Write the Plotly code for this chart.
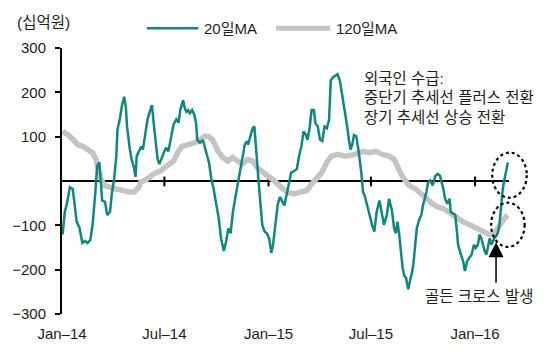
import plotly.graph_objects as go

# ---------------- data ----------------
ma20_dates = [
    "2014-01-02", "2014-01-06", "2014-01-09", "2014-01-15", "2014-01-20", "2014-01-24", "2014-01-27",
    "2014-02-01", "2014-02-06", "2014-02-11", "2014-02-15", "2014-02-20", "2014-02-24", "2014-03-01",
    "2014-03-04", "2014-03-08", "2014-03-11", "2014-03-13", "2014-03-18", "2014-03-22", "2014-03-27",
    "2014-03-30", "2014-04-03", "2014-04-07", "2014-04-09", "2014-04-13", "2014-04-17", "2014-04-21",
    "2014-04-24", "2014-04-26", "2014-05-01", "2014-05-04", "2014-05-08", "2014-05-11", "2014-05-13",
    "2014-05-17", "2014-05-21", "2014-05-24", "2014-05-28", "2014-06-01", "2014-06-05", "2014-06-09",
    "2014-06-12", "2014-06-15", "2014-06-19", "2014-06-22", "2014-06-26", "2014-07-01", "2014-07-04",
    "2014-07-08", "2014-07-12", "2014-07-17", "2014-07-22", "2014-07-26", "2014-07-29", "2014-08-01",
    "2014-08-03", "2014-08-06", "2014-08-09", "2014-08-12", "2014-08-15", "2014-08-19", "2014-08-23",
    "2014-08-26", "2014-08-28", "2014-09-02", "2014-09-07", "2014-09-13", "2014-09-18", "2014-09-22",
    "2014-09-26", "2014-10-01", "2014-10-05", "2014-10-09", "2014-10-14", "2014-10-18", "2014-10-22",
    "2014-10-26", "2014-10-30", "2014-11-03", "2014-11-07", "2014-11-12", "2014-11-16", "2014-11-20",
    "2014-11-24", "2014-11-26", "2014-11-30", "2014-12-04", "2014-12-07", "2014-12-09", "2014-12-12",
    "2014-12-15", "2014-12-18", "2014-12-21", "2014-12-25", "2014-12-29", "2015-01-02", "2015-01-06",
    "2015-01-09", "2015-01-13", "2015-01-17", "2015-01-21", "2015-01-25", "2015-01-29", "2015-02-03",
    "2015-02-07", "2015-02-10", "2015-02-16", "2015-02-20", "2015-02-24", "2015-02-28", "2015-03-04",
    "2015-03-08", "2015-03-11", "2015-03-15", "2015-03-18", "2015-03-22", "2015-03-25", "2015-03-29",
    "2015-04-02", "2015-04-06", "2015-04-10", "2015-04-14", "2015-04-18", "2015-04-21", "2015-04-25",
    "2015-04-29", "2015-05-03", "2015-05-07", "2015-05-11", "2015-05-14", "2015-05-17", "2015-05-20",
    "2015-05-23", "2015-05-26", "2015-05-29", "2015-06-01", "2015-06-05", "2015-06-09", "2015-06-14",
    "2015-06-17", "2015-06-20", "2015-06-24", "2015-06-28", "2015-07-03", "2015-07-07", "2015-07-11",
    "2015-07-16", "2015-07-20", "2015-07-24", "2015-07-29", "2015-08-02", "2015-08-07", "2015-08-11",
    "2015-08-14", "2015-08-17", "2015-08-20", "2015-08-23", "2015-08-26", "2015-08-29", "2015-09-01",
    "2015-09-03", "2015-09-05", "2015-09-08", "2015-09-11", "2015-09-14", "2015-09-17", "2015-09-20",
    "2015-09-24", "2015-09-28", "2015-10-01", "2015-10-04", "2015-10-07", "2015-10-10", "2015-10-14",
    "2015-10-18", "2015-10-23", "2015-10-27", "2015-10-31", "2015-11-03", "2015-11-06", "2015-11-09",
    "2015-11-13", "2015-11-17", "2015-11-19", "2015-11-23", "2015-11-27", "2015-11-30", "2015-12-02",
    "2015-12-07", "2015-12-11", "2015-12-14", "2015-12-18", "2015-12-22", "2015-12-26", "2015-12-30",
    "2016-01-02", "2016-01-06", "2016-01-09", "2016-01-12", "2016-01-15", "2016-01-18", "2016-01-21",
    "2016-01-24", "2016-01-27", "2016-01-30", "2016-02-01", "2016-02-04", "2016-02-07", "2016-02-10",
    "2016-02-13", "2016-02-16", "2016-02-19", "2016-02-22", "2016-02-25", "2016-02-28",
]
ma20_vals = [
    -121, -69, -55, -14, -18, -62, -92,
    -106, -140, -135, -140, -133, -100, -25,
    33, 42, -25, -44, -47, -77, -69,
    -29, 4, 56, 116, 138, 171, 190,
    164, 122, 71, 49, 31, 9, 56,
    67, 78, 71, 108, 138, 156, 171,
    131, 93, 49, 38, 53, 67, 75,
    67, 93, 127, 139, 132, 160, 171,
    182, 164, 156, 160, 153, 160, 149,
    130, 93, 86, 93, 64, 40, 4,
    -18, -55, -84, -129, -158, -136, -107,
    -118, -70, -40, -10, 19, 49, 82,
    90, 82, 101, 119, 123, 86, 34,
    -10, -55, -99, -114, -118, -129, -162,
    -144, -99, -55, -36, -45, -55, -25,
    4, 19, 23, 27, 56, 78, 112,
    104, 93, 123, 160, 160, 130, 123,
    93, 90, 123, 119, 138, 227, 234,
    238, 241, 227, 197, 178, 153, 123,
    93, 71, 82, 104, 101, 70, 19,
    -25, -33, -55, -77, -99, -114, -70,
    -44, -70, -99, -77, -40, -66, -107,
    -118, -92, -121, -158, -196, -214, -218,
    -233, -244, -225, -210, -188, -144, -107,
    -88, -77, -55, -40, -25, -3, 1,
    -10, 12, 16, 12, -3, -18, -40,
    -51, -40, -70, -73, -77, -114, -144,
    -166, -181, -203, -181, -173, -166, -144,
    -151, -144, -121, -129, -144, -158, -166,
    -144, -129, -144, -136, -129, -125, -118,
    -99, -55, -18, 4, 23, 42,
]

ma120_dates = [
    "2014-01-02", "2014-01-12", "2014-01-21", "2014-01-29", "2014-02-07", "2014-02-15", "2014-02-24",
    "2014-03-02", "2014-03-07", "2014-03-11", "2014-03-17", "2014-03-25", "2014-04-06", "2014-04-18",
    "2014-04-29", "2014-05-08", "2014-05-16", "2014-05-20", "2014-05-31", "2014-06-12", "2014-06-24",
    "2014-07-05", "2014-07-17", "2014-07-26", "2014-08-01", "2014-08-12", "2014-08-24", "2014-09-02",
    "2014-09-10", "2014-09-16", "2014-09-24", "2014-10-04", "2014-10-12", "2014-10-21", "2014-10-30",
    "2014-11-07", "2014-11-16", "2014-11-25", "2014-12-04", "2014-12-12", "2014-12-21", "2014-12-30",
    "2015-01-08", "2015-01-16", "2015-01-25", "2015-02-03", "2015-02-14", "2015-02-26", "2015-03-10",
    "2015-03-18", "2015-03-27", "2015-04-05", "2015-04-14", "2015-04-22", "2015-05-04", "2015-05-16",
    "2015-05-27", "2015-06-08", "2015-06-17", "2015-06-28", "2015-07-10", "2015-07-21", "2015-08-02",
    "2015-08-11", "2015-08-17", "2015-08-23", "2015-08-29", "2015-09-06", "2015-09-18", "2015-09-29",
    "2015-10-08", "2015-10-17", "2015-10-26", "2015-11-06", "2015-11-18", "2015-11-30", "2015-12-11",
    "2015-12-23", "2016-01-04", "2016-01-15", "2016-01-27", "2016-02-04", "2016-02-10", "2016-02-16",
    "2016-02-22", "2016-02-28",
]
ma120_vals = [
    112, 104, 93, 82, 78, 71, 64,
    49, 27, 4, -10, -14, -18, -21,
    -25, -25, -16, -3, 4, 16, 23,
    34, 45, 67, 78, 82, 86, 93,
    101, 101, 93, 67, 53, 45, 53,
    45, 38, 49, 45, 30, 19, 12,
    4, -7, -16, -25, -29, -25, -21,
    -7, 4, 19, 42, 56, 60, 56,
    58, 62, 67, 64, 67, 60, 56,
    49, 30, 16, 4, -10, -18, -29,
    -40, -51, -58, -62, -73, -84, -92,
    -99, -107, -114, -121, -118, -107, -92,
    -84, -77,
]

series_names = ["20일MA", "120일MA"]
x_tick_vals = ["2014-01-01", "2014-07-01", "2015-01-01", "2015-07-01", "2016-01-01"]
x_tick_text = ["Jan\u201314", "Jul\u201314", "Jan\u201315", "Jul\u201315", "Jan\u201316"]
y_tick_vals = [-300, -200, -100, 100, 200, 300]
x_range = ["2014-01-01", "2016-03-01"]
y_range = [-300, 300]
unit_label = "(십억원)"
note_lines = ["외국인 수급:", "중단기 추세선 플러스 전환", "장기 추세선 상승 전환"]
cross_label = "골든 크로스 발생"

TEAL = "#11867d"
GRAY = "#c4c4c4"
LATIN = "Liberation Sans, Arial, Noto Sans CJK KR, sans-serif"
KR_SIZE = 15.5

fig = go.Figure()
fig.add_trace(go.Scatter(x=ma120_dates, y=ma120_vals, mode="lines", name=series_names[1],
                         line=dict(color=GRAY, width=5.5)))
fig.add_trace(go.Scatter(x=ma20_dates, y=ma20_vals, mode="lines", name=series_names[0],
                         line=dict(color=TEAL, width=2.5)))

fig.update_layout(
    width=544, height=354,
    margin=dict(l=57, r=35, t=48, b=36),
    plot_bgcolor="white", paper_bgcolor="white",
    showlegend=False,
    font=dict(family=LATIN, size=15, color="#1e1e1e"),
)
fig.update_xaxes(range=x_range, tickvals=x_tick_vals, ticktext=x_tick_text,
                 showgrid=False, zeroline=False, showline=False, ticks="",
                 ticklabelstandoff=9)
fig.update_yaxes(range=y_range, tickvals=y_tick_vals, showgrid=False, zeroline=False,
                 showline=True, linecolor="black", linewidth=2,
                 ticks="outside", ticklen=5, tickwidth=2, tickcolor="black",
                 ticklabelstandoff=6)

# zero line acting as the horizontal axis
fig.add_shape(type="line", xref="x domain", yref="y", x0=0, x1=1, y0=0, y1=0,
              line=dict(color="black", width=2), layer="below")
for t in x_tick_vals[1:]:
    fig.add_shape(type="line", xref="x", yref="y", x0=t, x1=t, y0=-12, y1=10,
                  line=dict(color="black", width=2), layer="below")

# legend drawn by hand (long line samples)
legend_items = [(series_names[0], TEAL, 2.6, 0.190, 0.305), (series_names[1], GRAY, 5, 0.479, 0.600)]
for name, col, w, a, b in legend_items:
    fig.add_shape(type="line", xref="paper", yref="paper", x0=a, x1=b, y0=1.074, y1=1.074,
                  line=dict(color=col, width=w))
    fig.add_annotation(xref="paper", yref="paper", x=b + 0.009, y=1.074, text=name,
                       showarrow=False, xanchor="left", yanchor="middle",
                       font=dict(family=LATIN, size=15, color="#1e1e1e"))

fig.add_annotation(xref="paper", yref="paper", x=-0.106, y=1.096, text=unit_label,
                   showarrow=False, xanchor="left", yanchor="middle",
                   font=dict(family=LATIN, size=KR_SIZE, color="#1e1e1e"))

for txt, yy in zip(note_lines, [0.885, 0.813, 0.739]):
    fig.add_annotation(xref="paper", yref="paper", x=0.671, y=yy, text=txt,
                       showarrow=False, xanchor="left", yanchor="middle",
                       font=dict(family=LATIN, size=KR_SIZE, color="#1e1e1e"))

fig.add_annotation(xref="paper", yref="paper", x=0.933, y=0.067, text=cross_label,
                   showarrow=False, xanchor="center", yanchor="middle",
                   font=dict(family=LATIN, size=KR_SIZE, color="#1e1e1e"))
fig.add_annotation(xref="paper", yref="paper", x=0.971, y=0.270, text="",
                   showarrow=True, ax=0, ay=42, arrowhead=2, arrowsize=2, arrowwidth=1.5,
                   arrowcolor="black")

# dotted ellipses
for (a, b, c, d) in [(0.9625, 1.0397, 0.437, 0.607), (0.960, 1.035, 0.252, 0.4185)]:
    fig.add_shape(type="circle", xref="paper", yref="paper", x0=a, x1=b, y0=c, y1=d,
                  line=dict(color="black", width=2.2, dash="dot"))

fig.write_html("out.html")
